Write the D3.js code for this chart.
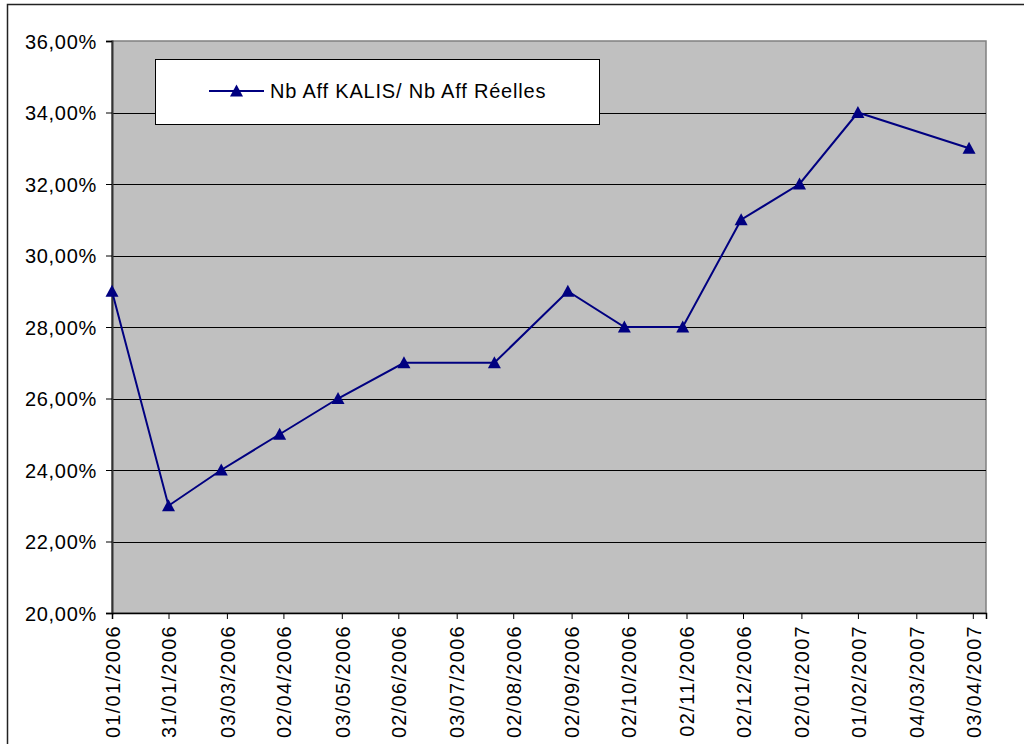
<!DOCTYPE html>
<html>
<head>
<meta charset="utf-8">
<script src="https://cdn.jsdelivr.net/npm/d3@7"></script>
<style>
  html, body { margin: 0; padding: 0; background: #ffffff; }
  svg { display: block; }
  text { font-family: Arial, "Liberation Sans", sans-serif; fill: #000; }
</style>
</head>
<body>
<svg id="chart" width="1024" height="744"></svg>
<script>
// Observation dates (dd/mm/yyyy) and ratio values in percent
const dates = ["01/01/2006", "31/01/2006", "28/02/2006", "31/03/2006", "01/05/2006",
               "05/06/2006", "23/07/2006", "31/08/2006", "30/09/2006", "31/10/2006",
               "01/12/2006", "01/01/2007", "01/02/2007", "01/04/2007"];
const ratios = [29, 23, 24, 25, 26, 27, 27, 29, 28, 28, 31, 32, 34, 33];

// Date axis tick labels
const tickLabels = ["01/01/2006", "31/01/2006", "03/03/2006", "02/04/2006", "03/05/2006",
                    "02/06/2006", "03/07/2006", "02/08/2006", "02/09/2006", "02/10/2006",
                    "02/11/2006", "02/12/2006", "02/01/2007", "01/02/2007", "04/03/2007",
                    "03/04/2007"];
const axisStart = "01/01/2006";
const axisEnd = "10/04/2007";

// Percent axis ticks
const yTicks = [20, 22, 24, 26, 28, 30, 32, 34, 36];

const seriesName = "Nb Aff KALIS/ Nb Aff Réelles";

const parse = d3.timeParse("%d/%m/%Y");
const fmtDate = d3.timeFormat("%d/%m/%Y");
const data = dates.map((d, i) => ({ date: parse(d), value: ratios[i] }));

const svg = d3.select("#chart");
const plot = { left: 112, right: 986, top: 41, bottom: 613 };

const x = d3.scaleTime()
  .domain([parse(axisStart), parse(axisEnd)])
  .range([plot.left, plot.right]);
const y = d3.scaleLinear()
  .domain([d3.min(yTicks), d3.max(yTicks)])
  .range([plot.bottom, plot.top]);

// Outer chart frame
svg.append("rect")
  .attr("x", 7.5).attr("y", 4.5)
  .attr("width", 1030).attr("height", 760)
  .attr("fill", "none").attr("stroke", "#222").attr("stroke-width", 1.5);

// Plot area background
svg.append("rect")
  .attr("x", plot.left).attr("y", plot.top)
  .attr("width", plot.right - plot.left).attr("height", plot.bottom - plot.top)
  .attr("fill", "#c0c0c0").attr("stroke", "#808080").attr("stroke-width", 1.5);

// Horizontal gridlines
svg.append("g")
  .selectAll("line")
  .data(yTicks.filter(t => t !== d3.min(yTicks) && t !== d3.max(yTicks)))
  .join("line")
  .attr("x1", plot.left).attr("x2", plot.right)
  .attr("y1", d => Math.round(y(d)) + 0.5).attr("y2", d => Math.round(y(d)) + 0.5)
  .attr("stroke", "#000").attr("stroke-width", 1);

// Y axis
const yAxis = d3.axisLeft(y)
  .tickValues(yTicks)
  .tickSize(6)
  .tickPadding(9)
  .tickFormat(d => d3.format(".2f")(d).replace(".", ",") + "%");
const gy = svg.append("g")
  .attr("transform", `translate(${plot.left},0)`)
  .call(yAxis);
gy.select(".domain").attr("stroke", "#333").attr("stroke-width", 2);
gy.selectAll(".tick line").attr("stroke", "#000");
gy.selectAll(".tick text")
  .attr("font-size", 20).attr("letter-spacing", "0.7px")
  .attr("font-family", "Arial, 'Liberation Sans', sans-serif")
  .attr("dy", "0.35em");

// X (date) axis
const xAxis = d3.axisBottom(x)
  .tickValues(tickLabels.map(parse))
  .tickSize(6)
  .tickFormat(fmtDate);
const gx = svg.append("g")
  .attr("transform", `translate(0,${plot.bottom})`)
  .call(xAxis);
gx.select(".domain").attr("stroke", "#000").attr("stroke-width", 1.5);
gx.selectAll(".tick line").attr("stroke", "#000");
gx.selectAll(".tick text")
  .attr("font-size", 20).attr("letter-spacing", "1.3px")
  .attr("font-family", "Arial, 'Liberation Sans', sans-serif")
  .attr("text-anchor", "end")
  .attr("transform", "rotate(-90)")
  .attr("x", -12).attr("y", 0).attr("dy", "0.36em");

// Series line
const line = d3.line().x(d => x(d.date)).y(d => y(d.value));
svg.append("path")
  .datum(data)
  .attr("d", line)
  .attr("fill", "none")
  .attr("stroke", "#000080")
  .attr("stroke-width", 2);

// Triangle markers
const tri = "M0,-6.5L6.5,5.5L-6.5,5.5Z";
svg.append("g")
  .selectAll("path")
  .data(data)
  .join("path")
  .attr("transform", d => `translate(${x(d.date)},${y(d.value)})`)
  .attr("d", tri)
  .attr("fill", "#000080");

// Legend
const legend = svg.append("g");
legend.append("rect")
  .attr("x", 155.5).attr("y", 59.5).attr("width", 444).attr("height", 65)
  .attr("fill", "#fff").attr("stroke", "#000").attr("stroke-width", 1);
legend.append("line")
  .attr("x1", 209).attr("x2", 264).attr("y1", 91).attr("y2", 91)
  .attr("stroke", "#000080").attr("stroke-width", 2);
legend.append("path")
  .attr("transform", "translate(236.5,91)")
  .attr("d", tri)
  .attr("fill", "#000080");
legend.append("text")
  .attr("x", 270).attr("y", 91).attr("dy", "0.35em")
  .attr("font-size", 20).attr("letter-spacing", "0.8px")
  .text(seriesName);
</script>
</body>
</html>
